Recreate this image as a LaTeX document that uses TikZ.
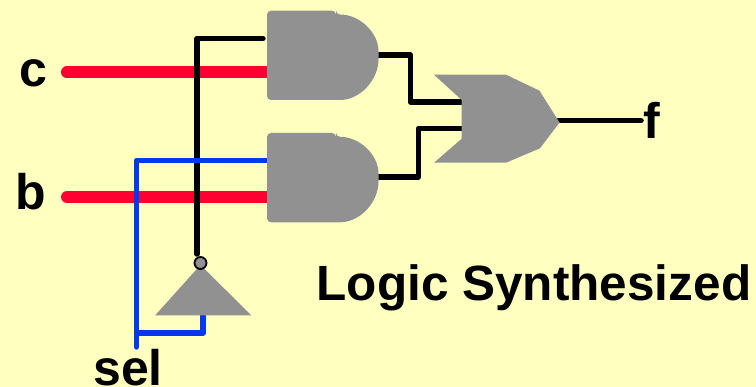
\documentclass[tikz,border=0pt]{standalone}
\usepackage{fontspec}
\setmainfont{Liberation Sans}
\definecolor{paper}{HTML}{FFFFBF}
\definecolor{gategray}{HTML}{919191}
\definecolor{wirered}{HTML}{FF0030}
\definecolor{wireblue}{HTML}{0438EE}
\tikzset{
	gate/.style={fill=gategray, draw=none},
	redwire/.style={draw=wirered, line width=12pt, line cap=round},
	blackwire/.style={draw=black, line width=5.5pt, line cap=round, line join=round},
	bluewire/.style={draw=wireblue, line width=5.5pt, line cap=round, line join=round},
	label/.style={font=\bfseries\fontsize{50}{50}\selectfont, inner sep=0pt},
}
\begin{document}
\begin{tikzpicture}[x=1pt, y=-1pt]
	\fill[paper] (0, 0) rectangle (756, 387);
	\useasboundingbox (0, 0) rectangle (756, 387);

	% pins
	\coordinate (c) at (67, 72.5);
	\coordinate (b) at (67, 197);
	\coordinate (topand c) at (268, 72.5);
	\coordinate (botand b) at (268, 197);
	\coordinate (topand sel) at (263, 38.5);
	\coordinate (botand sel) at (268, 160.5);
	\coordinate (topand out) at (378, 55);
	\coordinate (botand out) at (378, 177);
	\coordinate (or top) at (462, 102);
	\coordinate (or bot) at (462, 128.5);
	\coordinate (or out) at (558, 120.5);
	\coordinate (f end) at (641, 120.5);
	\coordinate (not out) at (197, 254);
	\coordinate (not in) at (203, 314);
	\coordinate (sel end) at (136.5, 347);
	\coordinate (sel joint) at (136.5, 333);

	% wires
	\draw[redwire] (c) -- (topand c);
	\draw[redwire] (b) -- (botand b);
	\draw[blackwire] (not out) |- (topand sel);
	\draw[blackwire] (topand out) -- (410.5, 55) |- (or top);
	\draw[blackwire] (botand out) -- (418.5, 177) |- (or bot);
	\draw[blackwire] (or out) -- (f end);
	\draw[bluewire] (sel end) |- (botand sel);
	\draw[bluewire] (sel joint) -| (not in);

	% and gates
	\foreach \gy in {0, 122.3} {
		\fill[gate, rounded corners=4pt] (267, 100+\gy) -- (267, 10.7+\gy) -- (336, 10.7+\gy) -- (336, 14.5+\gy)
			.. controls (360, 14.5+\gy) and (378.5, 33+\gy) .. (378.5, 55+\gy)
			.. controls (378.5, 80+\gy) and (360, 100+\gy) .. (336, 100+\gy) -- cycle;
	}
	% or gate
	\fill[gate] (434, 74.7) -- (506, 74.7) -- (539.5, 90.7) -- (559.5, 122.5) -- (540, 148.3)
		-- (506, 162.7) -- (434, 162.7) -- (461.7, 138.7) -- (461.7, 100) -- cycle;
	% inverter
	\fill[gate] (200.5, 265) -- (251.5, 315.5) -- (155, 315.5) -- cycle;
	\node[circle, fill=gategray, draw=black, line width=1.8pt, minimum size=12pt, inner sep=0pt] (bubble) at (200.5, 263) {};

	\node[label] (c label) at (33, 73) {c};
	\node[label] (b label) at (31, 192) {b};
	\node[label] (f label) at (652, 120) {f};
	\node[label] (sel label) at (128, 367.5) {sel};
	\node[label, font=\bfseries\fontsize{49.5}{50}\selectfont] (title) at (534, 288) {Logic Synthesized};
\end{tikzpicture}
\end{document}
